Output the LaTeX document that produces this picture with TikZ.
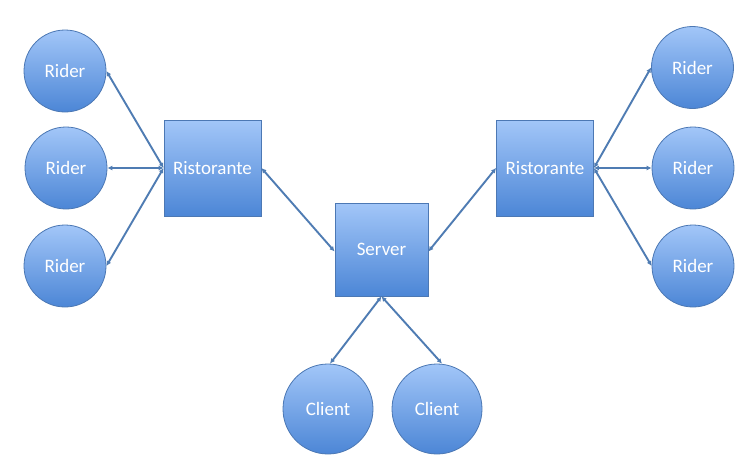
\documentclass[tikz,border=0pt]{standalone}
\usepackage{fontspec}
\setmainfont{Carlito}
\usetikzlibrary{arrows.meta}
\definecolor{topblue}{HTML}{A2C6F8}
\definecolor{botblue}{HTML}{4C86D6}
\definecolor{edgeblue}{HTML}{4C78B4}
\definecolor{linkblue}{HTML}{4F7CB3}
\tikzset{
  base/.style={draw=edgeblue, line width=0.8pt, top color=topblue, bottom color=botblue,
    text=white, font=\fontsize{19}{21}\selectfont, inner sep=0pt},
  rider/.style={base, circle, minimum size=82pt},
  client/.style={base, circle, minimum size=90pt},
  hub/.style={base, rectangle, minimum width=97pt, minimum height=96pt},
  srv/.style={base, rectangle, minimum width=93pt, minimum height=93pt},
  link/.style={draw=linkblue, line width=1.9pt, {Latex[length=5pt,width=5pt]}-{Latex[length=5pt,width=5pt]}}
}
\begin{document}
\begin{tikzpicture}[x=1pt,y=-1pt]
\useasboundingbox (0,0) rectangle (751,463);
\fill[white] (0,0) rectangle (751,463);
\node[rider] (l1) at (65,71) {Rider};
\node[rider] (l2) at (66,168) {Rider};
\node[rider] (l3) at (65,266) {Rider};
\node[hub] (rl) at (212.5,168) {Ristorante};
\node[srv] (s) at (381.5,249.5) {Server};
\node[hub] (rr) at (545,168) {Ristorante};
\node[rider] (r1) at (692.5,67.5) {Rider};
\node[rider] (r2) at (693,168) {Rider};
\node[rider] (r3) at (693,266) {Rider};
\node[client] (c1) at (328,409) {Client};
\node[client] (c2) at (437,409) {Client};
\draw[link] (rl.west) -- (l1.east);
\draw[link] (rl.west) -- (l2.east);
\draw[link] (rl.west) -- (l3.east);
\draw[link] (rr.east) -- (r1.west);
\draw[link] (rr.east) -- (r2.west);
\draw[link] (rr.east) -- (r3.west);
\draw[link] (rl.east) -- ([yshift=-2pt]s.west);
\draw[link] (rr.west) -- ([yshift=-2pt]s.east);
\draw[link] (s.south) -- ([xshift=2pt]c1.north);
\draw[link] (s.south) -- ([xshift=5pt]c2.north);
\end{tikzpicture}
\end{document}
